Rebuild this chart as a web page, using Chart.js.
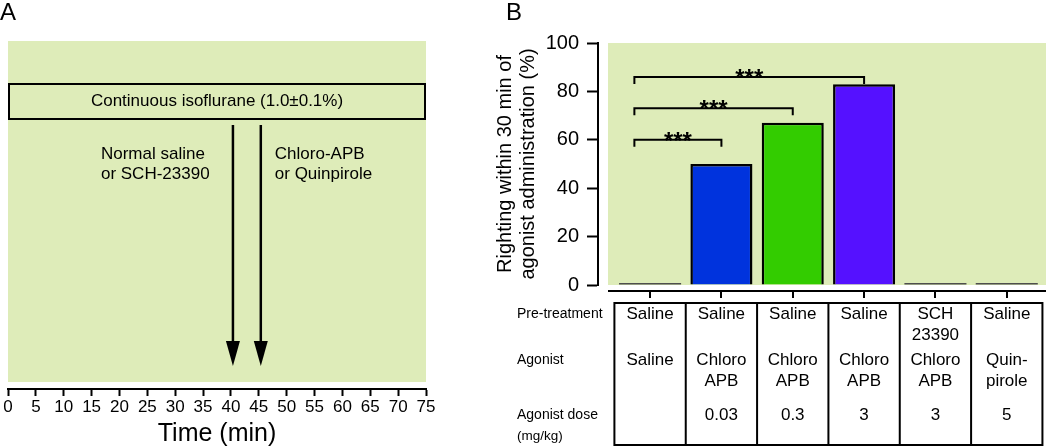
<!DOCTYPE html>
<html>
<head>
<meta charset="utf-8">
<script src="https://cdn.jsdelivr.net/npm/chart.js@4.4.1/dist/chart.umd.min.js"></script>
<style>
  body { margin: 0; background: #fff; font-family: 'Liberation Sans', Arial, sans-serif; }
  #wrap { position: relative; width: 1050px; height: 447px; overflow: hidden; }
  .box { position: absolute; top: 0; height: 447px; }
  .panel { position: absolute; top: 0; font-size: 24px; line-height: 24px; }
</style>
</head>
<body>
<div id="wrap">
  <div class="box" style="left:0;width:450px"><canvas id="chartA"></canvas></div>
  <div class="box" style="left:450px;width:600px"><canvas id="chartB"></canvas></div>
  <div class="panel" style="left:0">A</div>
  <div class="panel" style="left:506px">B</div>
</div>
<script>
const FONT = "'Liberation Sans', Arial, sans-serif";
const PLOT_BG = '#deecb9';

// panel A : protocol timeline
const timeMin = 0;
const timeMax = 75;
const timeStep = 5;
const isoStart = 0;
const isoEnd = 75;
const isoLabel = 'Continuous isoflurane (1.0\u00b10.1%)';
const injectTimes = [40, 45];
const injectLabels = [['Normal saline', 'or SCH-23390'], ['Chloro-APB', 'or Quinpirole']];

// panel B : righting
const groups = [0, 1, 2, 3, 4, 5];
const righting = [0, 50, 67, 83, 0, 0];
const barColors = ['#4d4d4d', '#0033dd', '#33cc00', '#5511ff', '#4d4d4d', '#4d4d4d'];
const pretreatment = [['Saline'], ['Saline'], ['Saline'], ['Saline'], ['SCH', '23390'], ['Saline']];
const agonist = [['Saline'], ['Chloro', 'APB'], ['Chloro', 'APB'], ['Chloro', 'APB'], ['Chloro', 'APB'], ['Quin-', 'pirole']];
const doses = ['', '0.03', '0.3', '3', '3', '5'];
const rowLabels = ['Pre-treatment', 'Agonist', 'Agonist dose'];
const yTicks = [0, 20, 40, 60, 80, 100];
// [from group, to group, bracket height (%)]
const comparisons = [[0, 1, 60], [0, 2, 73], [0, 3, 86]];
const sigLabels = ['***', '***', '***'];

Chart.defaults.font.family = FONT;
Chart.defaults.color = '#000';

const timelinePlugin = {
  id: 'timeline',
  beforeDraw(chart) {
    const {ctx, chartArea: a} = chart;
    ctx.save();
    ctx.fillStyle = PLOT_BG;
    ctx.fillRect(a.left, a.top, a.right - a.left, a.bottom - 7 - a.top);
    ctx.restore();
  },
  afterDraw(chart) {
    const {ctx, chartArea: a, scales: {x}} = chart;
    ctx.save();
    ctx.strokeStyle = '#000';
    ctx.fillStyle = '#000';
    // isoflurane bar
    const bx0 = x.getPixelForValue(isoStart), bx1 = x.getPixelForValue(isoEnd);
    const by0 = a.top + 43, by1 = a.top + 78;
    ctx.lineWidth = 2;
    ctx.strokeRect(bx0 + 1, by0, bx1 - bx0 - 2, by1 - by0);
    ctx.font = '17px ' + FONT;
    ctx.textAlign = 'center';
    ctx.textBaseline = 'middle';
    ctx.fillText(isoLabel, (bx0 + bx1) / 2, (by0 + by1) / 2);
    // injection arrows
    injectTimes.forEach(function (t, i) {
      const px = x.getPixelForValue(t) + 2;
      const y0 = a.top + 84;
      const tip = a.bottom - 23;
      ctx.lineWidth = 2.5;
      ctx.beginPath();
      ctx.moveTo(px, y0);
      ctx.lineTo(px, tip - 20);
      ctx.stroke();
      ctx.beginPath();
      ctx.moveTo(px - 7, tip - 25);
      ctx.lineTo(px + 7, tip - 25);
      ctx.lineTo(px, tip);
      ctx.closePath();
      ctx.fill();
      ctx.textAlign = 'left';
      const tx = i == 0 ? px - 132 : px + 14;
      injectLabels[i].forEach(function (s, k) {
        ctx.fillText(s, tx, a.top + 113 + k * 20);
      });
    });
    ctx.restore();
  }
};

new Chart(document.getElementById('chartA'), {
  type: 'scatter',
  data: { datasets: [] },
  options: {
    responsive: true,
    maintainAspectRatio: false,
    animation: false,
    devicePixelRatio: 1,
    layout: { padding: { left: 8, right: 24, top: 41, bottom: 0 } },
    plugins: { legend: { display: false }, tooltip: { enabled: false } },
    scales: {
      x: {
        type: 'linear',
        min: timeMin,
        max: timeMax,
        ticks: { stepSize: timeStep, font: { size: 17, lineHeight: 1 }, padding: 3, maxRotation: 0 },
        grid: { drawOnChartArea: false, drawTicks: true, tickLength: 7, tickColor: '#000', tickWidth: 2 },
        border: { color: '#000', width: 2 },
        title: { display: true, text: 'Time (min)', font: { size: 25, lineHeight: 1 }, padding: { top: 3, bottom: 0 } }
      },
      y: { display: false, min: 0, max: 100 }
    }
  },
  plugins: [timelinePlugin]
});

const rightingPlugin = {
  id: 'righting',
  beforeDraw(chart) {
    const {ctx, chartArea: a} = chart;
    ctx.save();
    ctx.fillStyle = PLOT_BG;
    ctx.fillRect(a.left + 10, a.top, a.right - a.left - 10, a.bottom - a.top);
    ctx.restore();
  },
  afterDraw(chart) {
    const {ctx, chartArea: a, scales: {x, y}} = chart;
    ctx.save();
    ctx.strokeStyle = '#000';
    ctx.fillStyle = '#000';
    ctx.lineWidth = 2;
    // detached x axis with ticks
    const axY = a.bottom + 6;
    ctx.beginPath();
    ctx.moveTo(a.left + 10, axY);
    ctx.lineTo(a.right, axY);
    groups.forEach(function (g) {
      const px = Math.round(x.getPixelForValue(g));
      ctx.moveTo(px, axY);
      ctx.lineTo(px, axY + 7);
    });
    ctx.stroke();

    // significance brackets
    comparisons.forEach(function (c, i) {
      const x0 = x.getPixelForValue(c[0] - 0.22);
      const x1 = x.getPixelForValue(c[1]);
      const yy = y.getPixelForValue(c[2]);
      ctx.lineWidth = 2;
      ctx.beginPath();
      ctx.moveTo(x0, yy + 7);
      ctx.lineTo(x0, yy);
      ctx.lineTo(x1, yy);
      ctx.lineTo(x1, yy + 7);
      ctx.stroke();
      ctx.font = 'bold 24px ' + FONT;
      ctx.textAlign = 'center';
      ctx.textBaseline = 'alphabetic';
      ctx.fillText(sigLabels[i], (x0 + x1) / 2, yy + 9);
    });

    // treatment table
    const tTop = axY + 12, tBot = 445;
    const cl = x.getPixelForValue(groups[0] - 0.5);
    const cr = x.getPixelForValue(groups[groups.length - 1] + 0.5);
    ctx.lineWidth = 2;
    ctx.strokeRect(cl, tTop, cr - cl, tBot - tTop);
    ctx.beginPath();
    groups.slice(1).forEach(function (g) {
      const px = x.getPixelForValue(g - 0.5);
      ctx.moveTo(px, tTop);
      ctx.lineTo(px, tBot);
    });
    ctx.stroke();

    ctx.font = '14px ' + FONT;
    ctx.textBaseline = 'middle';
    ctx.textAlign = 'left';
    const lx = 67;
    ctx.fillText(rowLabels[0], lx, tTop + 11);
    ctx.fillText(rowLabels[1], lx, tTop + 57);
    ctx.fillText(rowLabels[2], lx, tTop + 112);
    ctx.font = '13.5px ' + FONT;
    ctx.fillText('(mg/kg)', lx, tTop + 133);

    ctx.font = '17px ' + FONT;
    ctx.textAlign = 'center';
    groups.forEach(function (g, i) {
      const px = x.getPixelForValue(g);
      pretreatment[i].forEach(function (s, k) { ctx.fillText(s, px, tTop + 11 + k * 21); });
      agonist[i].forEach(function (s, k) { ctx.fillText(s, px, tTop + 57 + k * 21); });
      ctx.fillText(doses[i], px, tTop + 112);
    });
    ctx.restore();
  }
};

new Chart(document.getElementById('chartB'), {
  type: 'bar',
  data: {
    datasets: [{
      data: groups.map(function (g, i) { return { x: g, y: righting[i] }; }),
      backgroundColor: barColors,
      borderColor: '#000',
      borderWidth: righting.map(function (v) { return v > 0 ? 2.5 : 0; }),
      minBarLength: 2,
      categoryPercentage: 1,
      barPercentage: 0.87
    }]
  },
  options: {
    responsive: true,
    maintainAspectRatio: false,
    animation: false,
    devicePixelRatio: 1,
    layout: { padding: { left: 40, right: 4, top: 43, bottom: 162 } },
    plugins: { legend: { display: false }, tooltip: { enabled: false } },
    scales: {
      x: { type: 'linear', display: false, min: -0.73, max: 5.55, offset: false },
      y: {
        min: 0,
        max: 100,
        afterFit: function (scale) { scale.width = 108; },
        afterBuildTicks: function (scale) { scale.ticks = yTicks.map(function (v) { return { value: v }; }); },
        ticks: { font: { size: 20 }, padding: 8 },
        grid: { drawOnChartArea: false, drawTicks: true, tickLength: 11, tickColor: '#000', tickWidth: 2 },
        border: { color: '#000', width: 2 },
        title: {
          display: true,
          text: ['Righting within 30 min of', 'agonist administration (%)'],
          font: { size: 20, lineHeight: 1.15 },
          padding: { top: 4, bottom: 0 }
        }
      }
    }
  },
  plugins: [rightingPlugin]
});
</script>
</body>
</html>
